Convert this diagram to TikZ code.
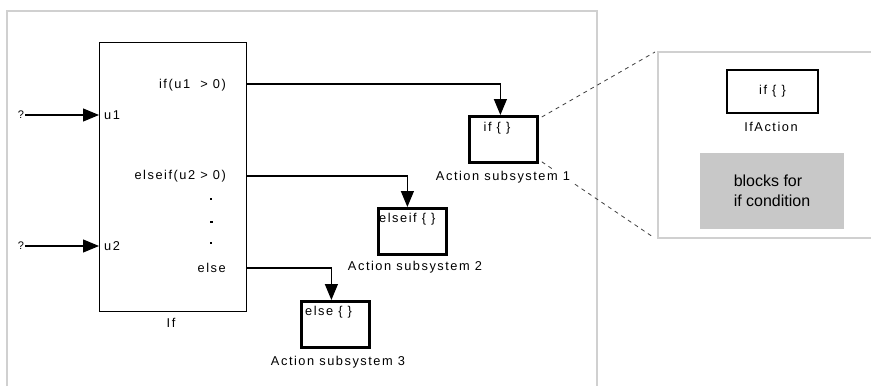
\documentclass[tikz,border=0pt]{standalone}
\usepackage{fontspec}
\setmainfont{Liberation Sans}[LetterSpace=12]
\newfontfamily\plainfont{Liberation Sans}
\usetikzlibrary{arrows.meta}
\definecolor{framec}{RGB}{208,208,208}
\definecolor{blockgray}{RGB}{200,200,200}
\tikzset{
  lbl/.style={inner sep=0pt, font=\fontsize{12.8}{14}\selectfont},
  conn/.style={line width=1.2pt, -{Triangle[length=16pt,width=13pt]}},
  ifblock/.style={draw, line width=1.4pt, inner sep=0pt, minimum width=147pt, minimum height=269pt, anchor=north west},
  actbox/.style={draw, line width=2.8pt, inner sep=0pt, minimum width=68pt, minimum height=46pt, anchor=north west},
  zoomline/.style={line width=0.8pt, dash pattern=on 4pt off 4pt, black!75},
  thinbox/.style={draw, line width=1.3pt, inner sep=0pt, minimum width=91pt, minimum height=43pt},
  graybox/.style={fill=blockgray, inner sep=0pt, minimum width=144pt, minimum height=76pt, align=left, font=\plainfont\fontsize{16}{20}\selectfont},
  qmark/.style={inner sep=1pt, font=\plainfont\fontsize{11}{12}\selectfont},
  dotmark/.style={fill=black}
}
\begin{document}
\begin{tikzpicture}[x=1pt,y=-1pt]
\useasboundingbox (0,0) rectangle (871,386);
\fill[white] (0,0) rectangle (871,386);
% outer frame
\draw[framec, line width=1.5pt] (7,386) -- (7,11) -- (597,11) -- (597,386);
% right panel
\draw[framec, line width=1.3pt] (871,52) -- (658,52) -- (658,238) -- (871,238);

% If block
\node[ifblock] (ifb) at (99,42) {};
\node[lbl] (iflbl) at (171,323) {If};
\node[lbl, anchor=west] (u1) at (104,115) {u1};
\node[lbl, anchor=west] (u2) at (104,246) {u2};
\node[lbl, anchor=east] (o1) at (226,85) {if(u1 \ > 0)};
\node[lbl, anchor=east] (o2) at (226,176) {elseif(u2 > 0)};
\node[lbl, anchor=east] (o3) at (226,268) {else};
\fill[dotmark] (209.8,197.8) rectangle (212.4,200.4);
\fill[dotmark] (209.8,221.4) rectangle (212.6,222.9);
\fill[dotmark] (209.8,241.8) rectangle (212.4,244.4);

% inputs
\node[qmark] (q1) at (21,115) {?};
\node[qmark] (q2) at (21,246) {?};
\draw[conn] (q1.east) -- (q1.east -| ifb.west);
\draw[conn] (q2.east) -- (q2.east -| ifb.west);

% action subsystems
\node[actbox] (a1) at (468,115) {};
\node[lbl, anchor=north] (a1t) at (497,122) {if \{ \}};
\node[actbox] (a2) at (377,207) {};
\node[lbl, anchor=north west] (a2t) at (379,213) {elseif \{ \}};
\node[lbl] (a2l) at (415,267) {Action subsystem 2};
\node[actbox] (a3) at (300,300) {};
\node[lbl, anchor=north west] (a3t) at (305,306) {else \{ \}};
\node[lbl] (a3l) at (338,362) {Action subsystem 3};

% output connectors
\coordinate (p1) at (246,84);
\coordinate (p2) at (246,176);
\coordinate (p3) at (246,268);
\draw[conn] (p1) -| ([xshift=-3pt]a1.north);
\draw[conn] (p2) -| ([xshift=-5pt]a2.north);
\draw[conn] (p3) -| ([xshift=-4pt]a3.north);

% zoom lines
\coordinate (z1) at (655,52);
\coordinate (z2) at (653,237);
\draw[zoomline] ([shift={(3pt,-2pt)}]a1.north east) -- (z1);
\draw[zoomline] ([shift={(3pt,2pt)}]a1.south east) -- (z2);
\node[lbl, fill=white, inner sep=2pt] (a1l) at (503,177) {Action subsystem 1};

% detail panel
\node[thinbox] (ifa) at (772.5,91.5) {\fontsize{12.8}{14}\selectfont if \{ \}};
\node[lbl] (ifal) at (771,127) {IfAction};
\node[graybox] (gb) at (772,191) {blocks for\\if condition};
\end{tikzpicture}
\end{document}
